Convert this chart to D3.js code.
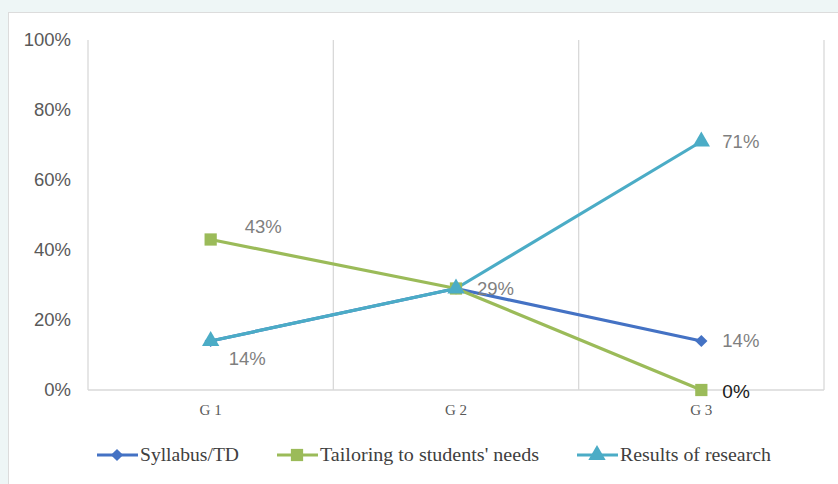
<!DOCTYPE html>
<html><head><meta charset="utf-8">
<script src="https://cdn.jsdelivr.net/npm/d3@7"></script>
<style>
html,body{margin:0;padding:0;background:#eef6f6;}
svg{display:block;}
</style></head>
<body>
<svg id="chart" width="838" height="484"></svg>
<script>
const categories = ["G 1", "G 2", "G 3"];
const seriesNames = ["Syllabus/TD", "Tailoring to students' needs", "Results of research"];
const syllabus = [14, 29, 14];
const tailoring = [43, 29, 0];
const research = [14, 29, 71];
const yTicks = [0, 20, 40, 60, 80, 100];
// data labels: [series index, category index]
const labelsShown = [[1,0],[2,0],[2,1],[2,2],[0,2],[1,2]];

const colors = ["#4472c4", "#9bbb59", "#4bacc6"];
const series = [syllabus, tailoring, research];

const svg = d3.select("#chart");
svg.append("rect").attr("x",8.5).attr("y",12.5).attr("width",840).attr("height",480)
  .attr("fill","#fff").attr("stroke","#dcdcdc");

const m = {l:88, r:824, t:40, b:390};
const x = d3.scaleBand().domain(categories).range([m.l, m.r]).padding(0);
const y = d3.scaleLinear().domain([0,100]).range([m.b, m.t]);
const cx = c => x(c) + x.bandwidth()/2;

// vertical gridlines at category boundaries
const bounds = categories.map(c => x(c)).concat([x(categories[categories.length-1]) + x.bandwidth()]);
svg.append("g").selectAll("line").data(bounds).join("line")
  .attr("x1", d=>d).attr("x2", d=>d).attr("y1", m.t).attr("y2", m.b)
  .attr("stroke", "#d9d9d9").attr("stroke-width", 1.3);
svg.append("line").attr("x1", m.l).attr("x2", m.r).attr("y1", m.b).attr("y2", m.b)
  .attr("stroke", "#d9d9d9").attr("stroke-width", 1.5);

// y axis labels
const yAxis = d3.axisLeft(y).tickValues(yTicks).tickFormat(d => d + "%").tickSize(0).tickPadding(17);
const gy = svg.append("g").attr("transform", `translate(${m.l},0)`).call(yAxis);
gy.select(".domain").remove();
gy.selectAll("text").attr("font-family","Liberation Sans, Arial, sans-serif").attr("font-size",18.5).attr("fill","#595959");

// x axis labels
const xAxis = d3.axisBottom(x).tickSize(0).tickPadding(14);
const gx = svg.append("g").attr("transform", `translate(0,${m.b})`).call(xAxis);
gx.select(".domain").remove();
gx.selectAll("text").attr("font-family","Liberation Serif, serif").attr("font-size",15).attr("fill","#595959");

const line = d3.line().x((d,i)=>cx(categories[i])).y(d=>y(d));
const markers = [
  d3.symbol().type(d3.symbolSquare).size(75),
  d3.symbol().type(d3.symbolSquare).size(150),
  d3.symbol().type(d3.symbolTriangle).size(130)
];

series.forEach((s, k) => {
  svg.append("path").datum(s).attr("d", line).attr("fill","none")
    .attr("stroke", colors[k]).attr("stroke-width", 3.2).attr("stroke-linejoin","round");
});
series.forEach((s, k) => {
  svg.append("g").selectAll("path").data(s).join("path")
    .attr("d", markers[k])
    .attr("transform", (d,i)=>`translate(${cx(categories[i])},${y(d)}) ${k===0?"rotate(45)":""}`)
    .attr("fill", colors[k]);
});

// data labels
const offsets = {"1,0":[34,-7], "2,0":[18,24], "2,1":[21,6], "2,2":[21,6], "0,2":[21,6], "1,2":[21,8]};
labelsShown.forEach(([k,i]) => {
  const v = series[k][i];
  const o = offsets[k+","+i];
  svg.append("text").attr("x", cx(categories[i]) + o[0]).attr("y", y(v) + o[1])
    .attr("font-family","Liberation Sans, Arial, sans-serif")
    .attr("font-size", (k===1&&i===2)?19:18.5)
    .attr("fill", (k===1&&i===2)?"#1a1a1a":"#7f7f7f")
    .text(v + "%");
});

// legend
const legX = [97, 277, 577];
const legW = [99, 219, 151];
const legY = 455;
seriesNames.forEach((n, k) => {
  const g = svg.append("g");
  g.append("line").attr("x1", legX[k]).attr("x2", legX[k]+41).attr("y1", legY).attr("y2", legY)
    .attr("stroke", colors[k]).attr("stroke-width", 3.2);
  g.append("path").attr("d", markers[k])
    .attr("transform", `translate(${legX[k]+20},${legY}) ${k===0?"rotate(45)":""}`)
    .attr("fill", colors[k]);
  g.append("text").attr("x", legX[k]+43).attr("y", legY+6)
    .attr("font-family","Liberation Serif, serif").attr("font-size",18).attr("fill","#404040")
    .attr("textLength", legW[k]).attr("lengthAdjust","spacingAndGlyphs")
    .text(n);
});
</script>
</body></html>
